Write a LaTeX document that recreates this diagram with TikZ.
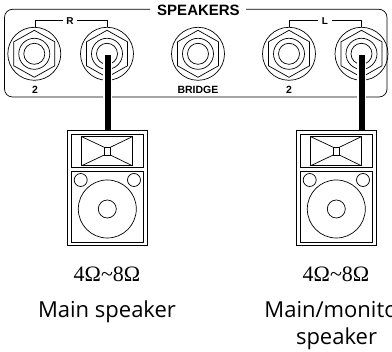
\documentclass[tikz,border=0pt]{standalone}
\usepackage{fontspec}
\setmainfont{Liberation Sans}
\newfontfamily\serifohm{Liberation Serif}
\newfontfamily\capfont{Open Sans}
\tikzset{
  x=1pt,y=-1pt,
  thinline/.style={draw=black,line width=0.7pt},
  panellabel/.style={font=\bfseries\fontsize{10}{10}\selectfont,inner sep=0pt},
  sidelabel/.style={font=\bfseries\fontsize{10.5}{11}\selectfont,inner sep=0pt},
  titlelabel/.style={font=\bfseries\fontsize{15}{15}\selectfont,inner sep=0pt},
  ohmlabel/.style={font=\serifohm\fontsize{22}{24}\selectfont,inner sep=0pt,anchor=base},
  caption/.style={font=\capfont\fontsize{22}{27}\selectfont,inner sep=0pt,anchor=base},
  cable/.style={line width=6pt,draw=black},
  cablehalo/.style={line width=9pt,draw=white},
}
\usetikzlibrary{calc}
\newcommand{\jackdraw}[2]{%
  \coordinate (#2) at (#1,53.8);
  \draw[thinline] (#2) circle[radius=26.5];
  \draw[thinline] ($(#2)+(0,-23.5)$) -- ($(#2)+(20.5,-12)$) -- ($(#2)+(20.5,12)$) -- ($(#2)+(0,23.5)$) -- ($(#2)+(-20.5,12)$) -- ($(#2)+(-20.5,-12)$) -- cycle;
  \draw[thinline] (#2) circle[radius=15.5];
  \draw[thinline] (#2) circle[radius=10.5];
}
\newcommand{\speakerdraw}[2]{%
  \begin{scope}[shift={(#1,0)}]
    \coordinate (#2top) at (39.7,130.7);
    \draw[thinline,line width=1pt] (0,130.7) rectangle (79.6,246);
    \draw[thinline] (4,134.3) rectangle (75.6,167.7);
    \draw[thinline] (4,171) rectangle (75.6,242.3);
    \draw[thinline] (14,136.7) rectangle (64.6,165.7);
    \draw[thinline] (36.6,147.3) rectangle (42.6,155);
    \draw[thinline] (14,136.7) -- (36.6,147.3) (14,165.7) -- (36.6,155)
                    (64.6,136.7) -- (42.6,147.3) (64.6,165.7) -- (42.6,155);
    \draw[thinline] (13,180) circle[radius=6.5];
    \draw[thinline] (66.3,180) circle[radius=6.5];
    \draw[thinline] (39.6,209) circle[radius=29];
    \draw[thinline] (39.6,209) circle[radius=9];
  \end{scope}
}
\begin{document}
\begin{tikzpicture}
\useasboundingbox (0,0) rectangle (392,352);
% panel
\node[titlelabel] (title) at (198.5,10) {SPEAKERS};
\draw[thinline,rounded corners=8pt] (150,9.3) -- (4.5,9.3) -- (4.5,97) -- (387,97) -- (387,9.3) -- (246,9.3);
% jacks
\jackdraw{34.3}{ja}
\jackdraw{107}{jb}
\jackdraw{198}{jc}
\jackdraw{289}{jd}
\jackdraw{361.5}{je}
% brackets
\node[panellabel] (rlab) at (70,21) {R};
\node[panellabel] (llab) at (325,21) {L};
\draw[thinline] (35,27.5) -- (35,20.8) -- (63,20.8) (77,20.8) -- (107,20.8) -- (107,27.5);
\draw[thinline] (289,27.5) -- (289,20.8) -- (318,20.8) (332,20.8) -- (361.5,20.8) -- (361.5,27.5);
% jack labels
\node[sidelabel] (twoa) at (35,89.5) {2};
\node[sidelabel] (bridge) at (198,89.5) {BRIDGE};
\node[sidelabel] (twob) at (289,89.5) {2};
% speakers
\speakerdraw{67.7}{sa}
\speakerdraw{296.7}{sb}
% cables
\coordinate (jbend) at ($(jb)+(0.8,1)$);
\coordinate (jeend) at ($(je)+(0,1)$);
\draw[cablehalo] (jbend) -- (jbend |- 0,128);
\draw[cablehalo] (jeend) -- (jeend |- 0,128);
\draw[thinline,line width=1pt] (67.7,130.7) -- (147.3,130.7) (296.7,130.7) -- (376.3,130.7);
\draw[cable] (jbend) -- (jbend |- satop);
\draw[cable] (jeend) -- (jeend |- sbtop);
% captions
\node[ohmlabel] (oa) at (107,282) {4Ω\textasciitilde8Ω};
\node[ohmlabel] (ob) at (336,282) {4Ω\textasciitilde8Ω};
\node[caption] (ca) at (107,318) {Main speaker};
\node[caption] (cb) at (335.5,318) {Main/monitor};
\node[caption] (cc) at (336.5,345) {speaker};
\end{tikzpicture}
\end{document}
